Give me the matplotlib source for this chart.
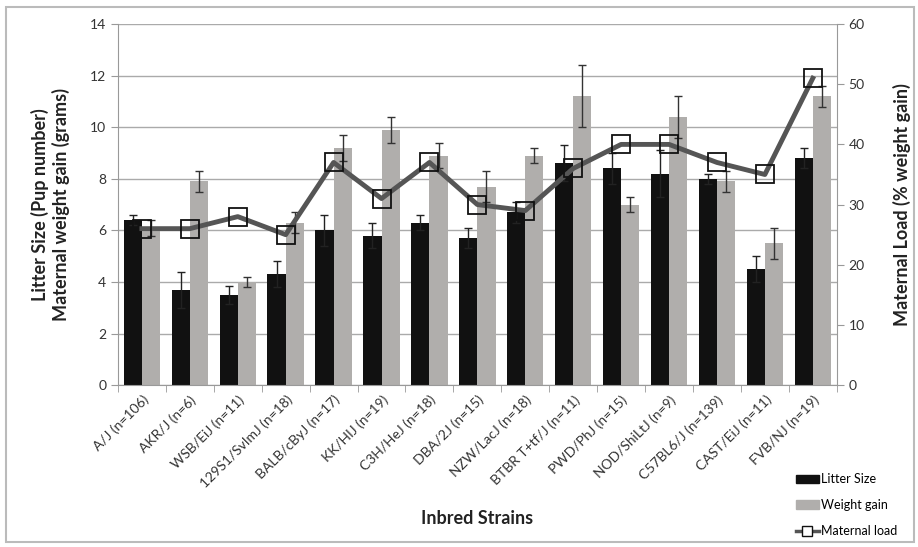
import matplotlib.pyplot as plt
import numpy as np
from matplotlib.patches import Rectangle
from matplotlib.lines import Line2D
from matplotlib.patches import Patch

plt.rcParams['font.family'] = ['Lato', 'DejaVu Sans']

# strains and values
strains = ['A/J (n=106)', 'AKR/J (n=6)', 'WSB/EiJ (n=11)', '129S1/SvImJ (n=18)',
           'BALB/cByJ (n=17)', 'KK/HIJ (n=19)', 'C3H/HeJ (n=18)', 'DBA/2J (n=15)',
           'NZW/LacJ (n=18)', 'BTBR T+tf/J (n=11)', 'PWD/PhJ (n=15)', 'NOD/ShiLtJ (n=9)',
           'C57BL6/J (n=139)', 'CAST/EiJ (n=11)', 'FVB/NJ (n=19)']
litterSize = [6.4, 3.7, 3.5, 4.3, 6.0, 5.8, 6.3, 5.7, 6.7, 8.6, 8.4, 8.2, 8.0, 4.5, 8.8]
litterErr = [0.2, 0.7, 0.35, 0.5, 0.6, 0.5, 0.3, 0.4, 0.4, 0.7, 0.6, 0.9, 0.2, 0.5, 0.4]
weightGain = [6.1, 7.9, 4.0, 6.3, 9.2, 9.9, 8.9, 7.7, 8.9, 11.2, 7.0, 10.4, 7.9, 5.5, 11.2]
weightErr = [0.3, 0.4, 0.2, 0.4, 0.5, 0.5, 0.5, 0.6, 0.3, 1.2, 0.3, 0.8, 0.4, 0.6, 0.4]
maternalLoad = [26, 26, 28, 25, 37, 31, 37, 30, 29, 36, 40, 40, 37, 35, 51]

fig = plt.figure(figsize=(9.18, 5.47), dpi=100)
ax = fig.add_axes([0.1285, 0.296, 0.783, 0.66])

x = np.arange(len(strains))
w = 0.38
ax.bar(x - 0.19, litterSize, w, color='#111111', zorder=2)
ax.bar(x + 0.19, weightGain, w, color='#b0aeac', zorder=2)
ax.errorbar(x - 0.19, litterSize, yerr=litterErr, fmt='none', ecolor='#222222',
            elinewidth=1, capsize=3, capthick=1, zorder=3)
ax.errorbar(x + 0.19, weightGain, yerr=weightErr, fmt='none', ecolor='#333333',
            elinewidth=1, capsize=3, capthick=1, zorder=3)

ax.set_xlim(-0.5, len(strains) - 0.5)
ax.set_ylim(0, 14)
ax.set_yticks(range(0, 15, 2))
ax.yaxis.grid(True, color='#aaaaaa', linewidth=1)
ax.set_axisbelow(True)
ax.set_xticks(x)
ax.set_xticklabels(strains, rotation=45, ha='right', rotation_mode='anchor',
                   fontsize=10, color='#333333')
ax.set_xticks(np.arange(-0.5, len(strains), 1), minor=True)
ax.tick_params(axis='x', which='major', length=0, pad=6)
ax.tick_params(axis='x', which='minor', length=5, color='#999999')
ax.tick_params(axis='y', length=5, color='#999999', labelsize=10, labelcolor='#333333')
for s in ['top', 'right']:
    ax.spines[s].set_visible(False)
ax.spines['left'].set_color('#999999')
ax.spines['bottom'].set_color('#999999')

ax.set_ylabel('Litter Size (Pup number)\nMaternal weight gain (grams)',
              fontsize=13, fontweight='bold', color='#222222', labelpad=14)
ax.set_xlabel('Inbred Strains', fontsize=13, fontweight='bold', color='#222222', labelpad=14)

ax2 = ax.twinx()
ax2.plot(x, maternalLoad, color='#555555', linewidth=3.5, zorder=4)
ax2.plot(x, maternalLoad, linestyle='none', marker='s', markersize=13,
         markerfacecolor='none', markeredgecolor='#111111', markeredgewidth=1.3, zorder=5)
ax2.set_ylim(0, 60)
ax2.set_yticks(range(0, 61, 10))
ax2.tick_params(axis='y', length=5, color='#999999', labelsize=10, labelcolor='#333333')
for s in ['top', 'left', 'bottom']:
    ax2.spines[s].set_visible(False)
ax2.spines['right'].set_color('#999999')
ax2.set_ylabel('Maternal Load (% weight gain)', fontsize=13, fontweight='bold',
               color='#222222', labelpad=20)

handles = [Patch(color='#111111'), Patch(color='#b0aeac'),
           Line2D([], [], color='#555555', linewidth=2.5, marker='s', markersize=7,
                  markerfacecolor='white', markeredgecolor='#111111')]
fig.legend(handles, ['Litter Size', 'Weight gain', 'Maternal load'],
           loc='upper left', bbox_to_anchor=(0.855, 0.155), frameon=False,
           fontsize=9, handlelength=1.8, handletextpad=0.2, labelspacing=1.1)

# outer frame of the figure
fig.patches.append(Rectangle((0.006, 0.01), 0.99, 0.978, transform=fig.transFigure,
                             fill=False, edgecolor='#bbbbbb', linewidth=1.5))

fig.savefig('out.png', dpi=100)
